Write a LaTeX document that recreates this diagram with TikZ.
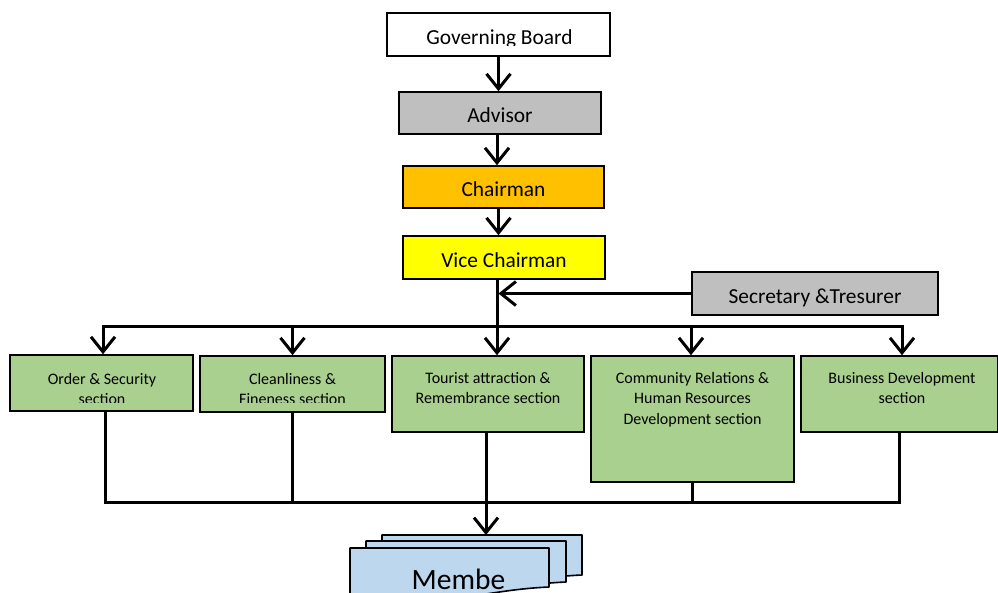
\documentclass[tikz,border=0pt]{standalone}
\usepackage{fontspec}
\setmainfont{Carlito}
\usepackage{xcolor}
\usepackage{tikz}
\usetikzlibrary{arrows.meta,positioning}
\definecolor{boxgray}{HTML}{BFBFBF}
\definecolor{chairorange}{HTML}{FFC000}
\definecolor{viceyellow}{HTML}{FFFF00}
\definecolor{secgreen}{HTML}{A9D08E}
\definecolor{memblue}{HTML}{BDD7EE}
\newcommand{\boxfont}{\fontsize{21.4}{25}\selectfont}
\newcommand{\secfont}{\fontsize{16}{20.5}\selectfont}
\newcommand{\memfont}{\fontsize{29.5}{33}\selectfont}

\begin{document}
\begin{tikzpicture}[x=1pt, y=-1pt,
  box/.style={draw, line width=1.6pt, inner sep=0pt, font=\boxfont,
    text height=19pt, text depth=0pt},
  secbox/.style={draw, line width=1.6pt, fill=secgreen, inner sep=0pt},
  sectxt/.style={font=\secfont, align=center, anchor=north, inner sep=0pt},
  conn/.style={line width=3pt},
  arr/.style={conn, -{Straight Barb[length=15pt, width=24pt]}},
  sheet/.style={draw, line width=1.6pt, fill=memblue, line join=round}]
  \useasboundingbox (0,0) rectangle (998,592);
  %
  % ── Top of the chart ──
  \node[box, fill=white, minimum width=223pt, minimum height=43pt] (gov) at (498.5,34.5) {};
  \begin{scope}
    \clip (389,15) rectangle (608,45.5);
    \node[font=\boxfont, anchor=base, inner sep=0pt] (govtxt) at (499.5,44.5) {Governing Board};
  \end{scope}
  \node[box, fill=boxgray, minimum width=202pt, minimum height=42pt] (adv) at (500,113) {Advisor};
  \node[box, fill=chairorange, minimum width=201pt, minimum height=42pt] (chair) at (503.5,187) {Chairman};
  \node[box, fill=viceyellow, minimum width=202pt, minimum height=43pt] (vice) at (504,257.5) {Vice Chairman};
  \node[box, fill=boxgray, minimum width=246pt, minimum height=43pt] (secr) at (815,293.5) {Secretary \&Tresurer};
  %
  \draw[arr] (gov.south) -- (gov.south |- adv.north);
  \draw[arr] ([xshift=-3pt]adv.south) -- ([xshift=-3pt]adv.south |- chair.north);
  \draw[arr] ([xshift=-5pt]chair.south) -- ([xshift=-5pt]chair.south |- vice.north);
  %
  % ── Sections ──
  \node[secbox, minimum width=183pt, minimum height=56pt] (sec1) at (101.5,383) {};
  \node[secbox, minimum width=185pt, minimum height=56pt] (sec2) at (292.5,384) {};
  \node[secbox, minimum width=192pt, minimum height=76pt] (sec3) at (488,394) {};
  \node[secbox, minimum width=203pt, minimum height=126pt] (sec4) at (692.5,419) {};
  \node[secbox, minimum width=197pt, minimum height=76pt] (sec5) at (899.5,394) {};
  \begin{scope}
    \clip (12,360) rectangle (383,402.5);
    \node[sectxt] (sec1txt) at (102,373) {Order \& Security\\section};
    \node[sectxt] (sec2txt) at (292.5,373) {Cleanliness \&\\Fineness section};
  \end{scope}
  \node[sectxt] (sec3txt) at (488,372) {Tourist attraction \&\\Remembrance section};
  \node[sectxt] (sec4txt) at (692.5,372) {Community Relations \&\\Human Resources\\Development section};
  \node[sectxt] (sec5txt) at (902,372) {Business Development\\section};
  %
  % ── Upper bus ──
  \coordinate (bustop) at (497,326);
  \draw[conn] (vice.south -| bustop) -- (bustop);
  \draw[arr, shorten >=1.5pt] (secr.west) -- (secr.west -| bustop);
  \draw[arr] (bustop) -| ([xshift=1.5pt]sec1.north);
  \draw[arr] (bustop) -| ([xshift=2.5pt]sec5.north);
  \draw[arr] (sec2.north |- bustop) -- (sec2.north);
  \draw[arr] (bustop) -- (bustop |- sec3.north);
  \draw[arr] ([xshift=-1.5pt]sec4.north |- bustop) -- ([xshift=-1.5pt]sec4.north);
  %
  % ── Members ──
  \draw[sheet] (382,535) -- (582,535) -- (582,575)
    .. controls (512,578) and (472,598) .. (382,587) -- cycle;
  \draw[sheet] (366,541) -- (566,541) -- (566,582)
    .. controls (496,585) and (456,605) .. (366,594) -- cycle;
  \draw[sheet] (350,548) -- (549,548) -- (549,587)
    .. controls (480,590) and (440,610) .. (350,599) -- cycle;
  \node[font=\memfont, anchor=base, inner sep=0pt] (mem) at (458.5,589) {Membe};
  \coordinate (memtop) at (486,535);
  %
  % ── Lower bus ──
  \coordinate (busbot) at (497,502);
  \draw[conn] ([xshift=4pt]sec1.south) |- (busbot) -| (sec5.south);
  \draw[conn] (sec2.south) -- (sec2.south |- busbot);
  \draw[conn] (sec4.south) -- (sec4.south |- busbot);
  \draw[arr] (memtop |- sec3.south) -- (memtop);
\end{tikzpicture}
\end{document}
